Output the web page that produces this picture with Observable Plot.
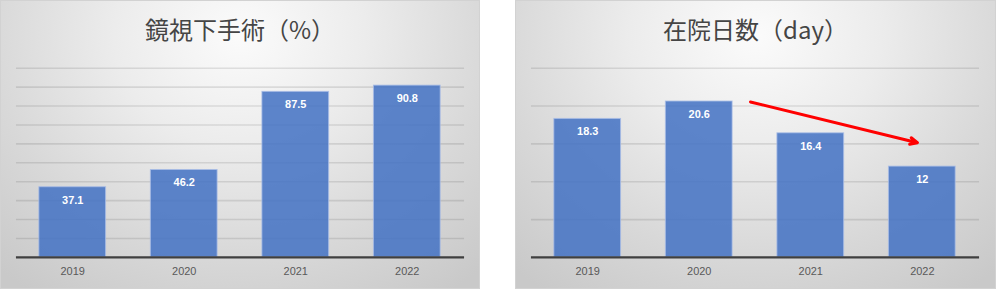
<!DOCTYPE html>
<html>
<head>
<meta charset="utf-8">
<script src="https://cdn.jsdelivr.net/npm/d3@7"></script>
<script src="https://cdn.jsdelivr.net/npm/@observablehq/plot@0.6"></script>
<style>
  html, body { margin: 0; padding: 0; background: #ffffff; }
  #wrap { position: relative; width: 996px; height: 289px; overflow: hidden; }
  .panel {
    position: absolute; top: 0; height: 289px; box-sizing: border-box;
    background: radial-gradient(ellipse 75% 110% at 50% 12%, #fbfbfb 0%, #ececec 35%, #d8d8d8 70%, #c9c9c9 100%);
    border: 1px solid #d2d2d2;
  }
  .title {
    position: absolute; top: 13px; left: 0; width: 100%; text-align: center;
    font-family: "Noto Sans CJK JP", "Noto Sans", sans-serif; font-size: 24px;
    color: #454545; line-height: 30px; pointer-events: none;
  }
  .panel svg { position: absolute; top: 0; left: 0; background: transparent; }
</style>
</head>
<body>
<div id="wrap">
  <div class="panel" id="p1" style="left:0px; width:480px;"></div>
  <div class="panel" id="p2" style="left:515px; width:481px;"></div>
</div>
<script>
// ---- data ----
const years = ["2019", "2020", "2021", "2022"];
const scopeRate = [37.1, 46.2, 87.5, 90.8];      // 鏡視下手術（%）
const stayDays = [18.3, 20.6, 16.4, 12];         // 在院日数（day）
const scopeTicks = [10, 20, 30, 40, 50, 60, 70, 80, 90, 100];
const stayTicks = [5, 10, 15, 20, 25];
const titles = ["鏡視下手術（%）", "在院日数（day）"];
const trendArrow = [{from: "2020", to: "2022", y1: 22.2, y2: 15.0}];

const tickFont = "'Liberation Sans', Arial, sans-serif";

function makeChart(values, ticks, maxY, width, extra) {
  const data = years.map((y, i) => ({year: y, value: values[i]}));
  return Plot.plot({
    width: width,
    height: 289,
    marginLeft: 15,
    marginRight: width - 465,
    marginTop: 67,
    marginBottom: 32,
    style: {background: "transparent", fontFamily: tickFont, overflow: "visible"},
    x: {domain: years, paddingInner: 0.4, paddingOuter: 0.2, label: null, axis: null},
    y: {domain: [0, maxY], label: null, axis: null},
    marks: [
      Plot.ruleY(ticks, {stroke: "#000", strokeOpacity: 0.1, strokeWidth: 1.6}),
      Plot.barY(data, {x: "year", y: "value", fill: "#4472c4", fillOpacity: 0.86,
        stroke: "#a9bde6", strokeWidth: 1, strokeOpacity: 0.8}),
      Plot.text(data, {x: "year", y: "value", text: d => String(d.value), dy: 13,
        fill: "#ffffff", fontWeight: "bold", fontSize: 11, fontFamily: tickFont}),
      Plot.ruleY([0], {stroke: "#3f3f3f", strokeWidth: 2.2}),
      Plot.axisX({tickSize: 0, tickPadding: 10, fontSize: 11, color: "#595959", label: null}),
      ...(extra || [])
    ]
  });
}

const c1 = makeChart(scopeRate, scopeTicks, 100, 480);
const c2 = makeChart(stayDays, stayTicks, 25, 481, [
  Plot.arrow(trendArrow, {x1: "from", x2: "to", y1: "y1", y2: "y2",
    stroke: "#ff0000", strokeWidth: 3, headLength: 4, headAngle: 50,
    insetStart: 53, insetEnd: 5})
]);

const p1 = document.getElementById("p1");
const p2 = document.getElementById("p2");
p1.appendChild(c1);
p2.appendChild(c2);
[p1, p2].forEach((p, i) => {
  const t = document.createElement("div");
  t.className = "title";
  t.textContent = titles[i];
  p.appendChild(t);
});
</script>
</body>
</html>
